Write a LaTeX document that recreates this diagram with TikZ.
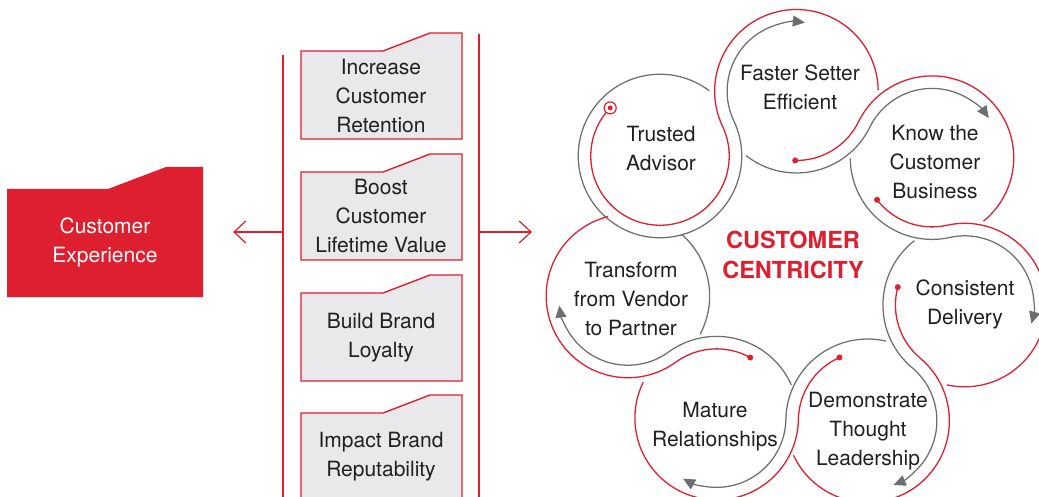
\documentclass[tikz,border=0pt]{standalone}
\usepackage{fontspec}
\setmainfont{TeX Gyre Heros}
\usetikzlibrary{calc,arrows.meta}
\definecolor{cred}{HTML}{DD1F2F}
\definecolor{cgray}{HTML}{6D6E71}
\definecolor{cbox}{HTML}{E9E9EB}
\definecolor{ctext}{HTML}{231F20}
\begin{document}
\begin{tikzpicture}[x=1pt,y=1pt,
  lbl/.style={align=center, font=\fontsize{21}{29}\selectfont, text=ctext, inner sep=0pt},
  bigred/.style={align=center, font=\fontsize{23.5}{30}\selectfont\bfseries, text=cred, inner sep=0pt},
  redarc/.style={draw=cred, line width=1.3pt},
  grayline/.style={draw=cgray, line width=1.25pt},
  grayarc/.style={grayline, -{Triangle[length=12pt,width=11pt]}},
  reddot/.style={fill=cred},
  folderbox/.style={draw=cred, fill=cbox, line width=1.4pt, line join=miter},
  vline/.style={draw=cred, line width=1.5pt},
  openarrow/.style={draw=cred, line width=1.2pt, -{Straight Barb[length=12pt,width=22pt]}}
]
\useasboundingbox (0,0) rectangle (1039,-497);
\clip (0,0) rectangle (1039,-497);

% ---------- left red box ----------
\fill[cred] (7,-189) -- (108,-189) -- (166,-167) -- (203,-167) -- (203,-297) -- (7,-297) -- cycle;
\node[lbl, text=white] (cx) at (105,-242.5) {\strut Customer\\\strut Experience};

% ---------- vertical bars and arrows ----------
\coordinate (lbartop) at (283,-55);
\coordinate (lbarbot) at (283,-500);
\coordinate (rbartop) at (479,-34);
\coordinate (rbarbot) at (479,-500);
\draw[vline] (lbartop) -- (lbarbot);
\draw[vline] (rbartop) -- (rbarbot);
\coordinate (lbar) at (283,-232);
\coordinate (ltip) at (233,-232);
\coordinate (rbar) at (479,-232);
\coordinate (rtip) at (532,-232);
\draw[openarrow] (lbar) -- (ltip);
\draw[openarrow] (rbar) -- (rtip);

% ---------- folder boxes ----------
\foreach \t in {51,172,293,413}{
  \draw[folderbox] (301,-\t) -- (383,-\t) -- (430,-\t+18) -- (462,-\t+18) -- (462,-\t-88) -- (301,-\t-88) -- cycle;
}
\node[lbl] (b1) at (381,-98) {\strut Increase\\\strut Customer\\\strut Retention};
\node[lbl] (b2) at (381,-218) {\strut Boost\\\strut Customer\\\strut Lifetime Value};
\node[lbl] (b3) at (381,-337.5) {\strut Build Brand\\\strut Loyalty};
\node[lbl] (b4) at (381,-456.5) {\strut Impact Brand\\\strut Reputability};

% ---------- circle centres ----------
\coordinate (C1) at (660,-156);
\coordinate (C2) at ($(C1)+(25.4:151)$);
\coordinate (C3) at ($(C2)+(-26.1:151)$);
\coordinate (C4) at ($(C3)+(-77.5:151)$);
\coordinate (C5) at ($(C4)+(-130:151)$);
\coordinate (C6) at ($(C5)+(179:151)$);
\coordinate (C7) at ($(C6)+(126:151)$);
\def\ri{69.25}
\def\ro{81.75}

% segment 1
\draw[redarc] ($(C1)+(136:\ri)$) arc[start angle=136, end angle=385.4, radius=\ri] arc[start angle=205.4, end angle=1, radius=\ro];
\draw[grayarc] ($(C1)+(53:\ro)$) arc[start angle=53, end angle=385.4, radius=\ro] arc[start angle=205.4, end angle=83, radius=\ri];
% segment 2
\draw[redarc] ($(C2)+(269:\ri)$) arc[start angle=269, end angle=333.9, radius=\ri] arc[start angle=153.9, end angle=-51, radius=\ro];
\draw[grayarc] ($(C2)+(232:\ro)$) arc[start angle=232, end angle=333.9, radius=\ro] arc[start angle=153.9, end angle=35, radius=\ri];
% segment 3
\draw[redarc] ($(C3)+(217.5:\ri)$) arc[start angle=217.5, end angle=282.5, radius=\ri] arc[start angle=102.5, end angle=-102.5, radius=\ro];
\draw[grayarc] ($(C3)+(180.5:\ro)$) arc[start angle=180.5, end angle=282.5, radius=\ro] arc[start angle=102.5, end angle=-15.5, radius=\ri];
% segment 4
\draw[redarc] ($(C4)+(165:\ri)$) arc[start angle=165, end angle=230, radius=\ri] arc[start angle=50, end angle=-155, radius=\ro];
\draw[grayarc] ($(C4)+(128:\ro)$) arc[start angle=128, end angle=230, radius=\ro] arc[start angle=50, end angle=-68, radius=\ri];
% segment 5
\draw[redarc] ($(C5)+(114:\ri)$) arc[start angle=114, end angle=179, radius=\ri] arc[start angle=359, end angle=154, radius=\ro];
\draw[grayarc] ($(C5)+(77:\ro)$) arc[start angle=77, end angle=179, radius=\ro] arc[start angle=359, end angle=241, radius=\ri];
% segment 6
\draw[redarc] ($(C6)+(61:\ri)$) arc[start angle=61, end angle=126, radius=\ri] arc[start angle=306, end angle=104, radius=\ro];
\draw[grayarc] ($(C6)+(24:\ro)$) arc[start angle=24, end angle=126, radius=\ro] arc[start angle=306, end angle=188, radius=\ri];
% circle 7 extra
\draw[grayline] ($(C7)+(-28:\ro)$) arc[start angle=-28, end angle=49, radius=\ro];

% dots
\draw[cred, fill=white, line width=1.2pt] ($(C1)+(136:\ri)$) circle[radius=6];
\fill[reddot] ($(C1)+(136:\ri)$) circle[radius=2.5];
\fill[reddot] ($(C2)+(269:\ri)$) circle[radius=3];
\fill[reddot] ($(C3)+(217.5:\ri)$) circle[radius=3];
\fill[reddot] ($(C4)+(165:\ri)$) circle[radius=3];
\fill[reddot] ($(C5)+(114:\ri)$) circle[radius=3];
\fill[reddot] ($(C6)+(61:\ri)$) circle[radius=3];

% texts
\node[lbl] (t1) at (661,-150.5) {\strut Trusted\\\strut Advisor};
\node[lbl] (t2) at (800,-89.5) {\strut Faster Setter\\\strut Efficient};
\node[lbl] (t3) at (935,-164) {\strut Know the\\\strut Customer\\\strut Business};
\node[lbl] (t4) at (965,-304) {\strut Consistent\\\strut Delivery};
\node[lbl] (t5) at (868,-431) {\strut Demonstrate\\\strut Thought\\\strut Leadership};
\node[lbl] (t6) at (715,-426.5) {\strut Mature\\\strut Relationships};
\node[lbl] (t7) at (631,-301) {\strut Transform\\\strut from Vendor\\\strut to Partner};
\node[bigred] (cc) at (793,-258) {\strut CUSTOMER\\\strut CENTRICITY};
\end{tikzpicture}
\end{document}
